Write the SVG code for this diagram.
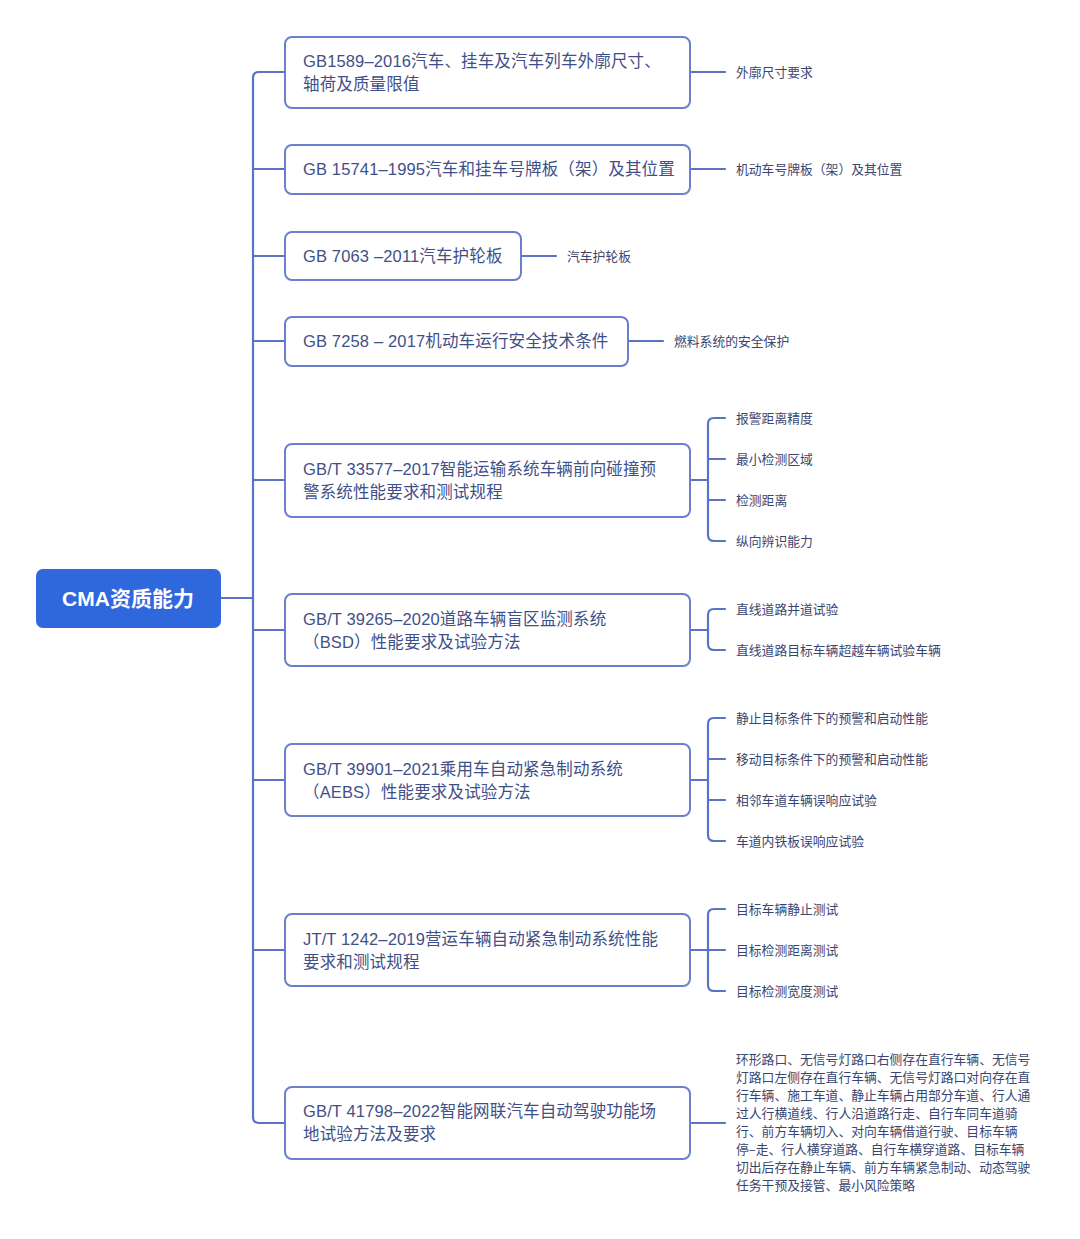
<svg xmlns="http://www.w3.org/2000/svg" width="1080" height="1239" viewBox="0 0 1080 1239">
<style>
.bg{fill:#ffffff}
.con{fill:none;stroke:#5a73c6;stroke-width:2.2;stroke-linecap:round;stroke-linejoin:round}
.box{fill:#ffffff;stroke:#6a80cf;stroke-width:2}
.root{fill:#2f67dd}
.rt{font-family:"Liberation Sans","Noto Sans CJK SC",sans-serif;font-size:21px;font-weight:600;fill:#ffffff}
.nt{font-family:"Liberation Sans","Noto Sans CJK SC",sans-serif;font-size:16.5px;letter-spacing:0.15px;fill:#3f5088}
.lt{font-family:"Noto Sans CJK SC",sans-serif;font-size:12.8px;fill:#3a4670}
</style>
<rect class="bg" x="0" y="0" width="1080" height="1239"/>
<g id="connectors">
<path class="con" d="M221,598 H253"/>
<path class="con" d="M285,72 H259 Q253,72 253,78 V1117 Q253,1123 259,1123 H285"/>
<path class="con" d="M253,169 H285 M253,256 H285 M253,341 H285 M253,480 H285 M253,630 H285 M253,780 H285 M253,950 H285"/>
<path class="con" d="M690,72 H725 M690,169 H725 M521,256 H556 M628,341 H663 M690,1123 H725"/>
<path class="con" d="M690,480 H708 M725,418 H714 Q708,418 708,424 V535 Q708,541 714,541 H725 M708,459 H725 M708,500 H725"/>
<path class="con" d="M690,630 H708 M725,609 H714 Q708,609 708,615 V644 Q708,650 714,650 H725"/>
<path class="con" d="M690,780 H708 M725,718 H714 Q708,718 708,724 V835 Q708,841 714,841 H725 M708,759 H725 M708,800 H725"/>
<path class="con" d="M690,950 H708 M725,909 H714 Q708,909 708,915 V985 Q708,991 714,991 H725 M708,950 H725"/>
</g>
<g id="root">
<rect class="root" x="36" y="569" width="185" height="59" rx="7"/>
<text class="rt" x="128" y="605.5" text-anchor="middle">CMA资质能力</text>
</g>
<g id="n1">
<rect class="box" x="285" y="37" width="405" height="71" rx="7"/>
<text class="nt" x="303" y="67">GB1589–2016汽车、挂车及汽车列车外廓尺寸、</text>
<text class="nt" x="303" y="90">轴荷及质量限值</text>
</g>
<g id="n2">
<rect class="box" x="285" y="145" width="405" height="49" rx="7"/>
<text class="nt" x="303" y="175">GB 15741–1995汽车和挂车号牌板（架）及其位置</text>
</g>
<g id="n3">
<rect class="box" x="285" y="232" width="236" height="48" rx="7"/>
<text class="nt" x="303" y="262">GB 7063 –2011汽车护轮板</text>
</g>
<g id="n4">
<rect class="box" x="285" y="317" width="343" height="49" rx="7"/>
<text class="nt" x="303" y="347">GB 7258 – 2017机动车运行安全技术条件</text>
</g>
<g id="n5">
<rect class="box" x="285" y="444" width="405" height="73" rx="7"/>
<text class="nt" x="303" y="475">GB/T 33577–2017智能运输系统车辆前向碰撞预</text>
<text class="nt" x="303" y="498">警系统性能要求和测试规程</text>
</g>
<g id="n6">
<rect class="box" x="285" y="594" width="405" height="72" rx="7"/>
<text class="nt" x="303" y="625">GB/T 39265–2020道路车辆盲区监测系统</text>
<text class="nt" x="303" y="648">（BSD）性能要求及试验方法</text>
</g>
<g id="n7">
<rect class="box" x="285" y="744" width="405" height="72" rx="7"/>
<text class="nt" x="303" y="775">GB/T 39901–2021乘用车自动紧急制动系统</text>
<text class="nt" x="303" y="798">（AEBS）性能要求及试验方法</text>
</g>
<g id="n8">
<rect class="box" x="285" y="914" width="405" height="72" rx="7"/>
<text class="nt" x="303" y="945">JT/T 1242–2019营运车辆自动紧急制动系统性能</text>
<text class="nt" x="303" y="968">要求和测试规程</text>
</g>
<g id="n9">
<rect class="box" x="285" y="1087" width="405" height="72" rx="7"/>
<text class="nt" x="303" y="1117">GB/T 41798–2022智能网联汽车自动驾驶功能场</text>
<text class="nt" x="303" y="1140">地试验方法及要求</text>
</g>
<g id="l1"><text class="lt" x="736" y="76.5">外廓尺寸要求</text></g>
<g id="l2"><text class="lt" x="736" y="173.5">机动车号牌板（架）及其位置</text></g>
<g id="l3"><text class="lt" x="567" y="260.5">汽车护轮板</text></g>
<g id="l4"><text class="lt" x="674" y="345.5">燃料系统的安全保护</text></g>
<g id="l5a"><text class="lt" x="736" y="422.5">报警距离精度</text></g>
<g id="l5b"><text class="lt" x="736" y="463.5">最小检测区域</text></g>
<g id="l5c"><text class="lt" x="736" y="504.5">检测距离</text></g>
<g id="l5d"><text class="lt" x="736" y="545.5">纵向辨识能力</text></g>
<g id="l6a"><text class="lt" x="736" y="613.5">直线道路并道试验</text></g>
<g id="l6b"><text class="lt" x="736" y="654.5">直线道路目标车辆超越车辆试验车辆</text></g>
<g id="l7a"><text class="lt" x="736" y="722.5">静止目标条件下的预警和启动性能</text></g>
<g id="l7b"><text class="lt" x="736" y="763.5">移动目标条件下的预警和启动性能</text></g>
<g id="l7c"><text class="lt" x="736" y="804.5">相邻车道车辆误响应试验</text></g>
<g id="l7d"><text class="lt" x="736" y="845.5">车道内铁板误响应试验</text></g>
<g id="l8a"><text class="lt" x="736" y="913.5">目标车辆静止测试</text></g>
<g id="l8b"><text class="lt" x="736" y="954.5">目标检测距离测试</text></g>
<g id="l8c"><text class="lt" x="736" y="995.5">目标检测宽度测试</text></g>
<g id="l9">
<text class="lt" x="736" y="1063.5">环形路口、无信号灯路口右侧存在直行车辆、无信号</text>
<text class="lt" x="736" y="1081.5">灯路口左侧存在直行车辆、无信号灯路口对向存在直</text>
<text class="lt" x="736" y="1099.5">行车辆、施工车道、静止车辆占用部分车道、行人通</text>
<text class="lt" x="736" y="1117.5">过人行横道线、行人沿道路行走、自行车同车道骑</text>
<text class="lt" x="736" y="1135.5">行、前方车辆切入、对向车辆借道行驶、目标车辆</text>
<text class="lt" x="736" y="1153.5">停–走、行人横穿道路、自行车横穿道路、目标车辆</text>
<text class="lt" x="736" y="1171.5">切出后存在静止车辆、前方车辆紧急制动、动态驾驶</text>
<text class="lt" x="736" y="1189.5">任务干预及接管、最小风险策略</text>
</g>
</svg>
